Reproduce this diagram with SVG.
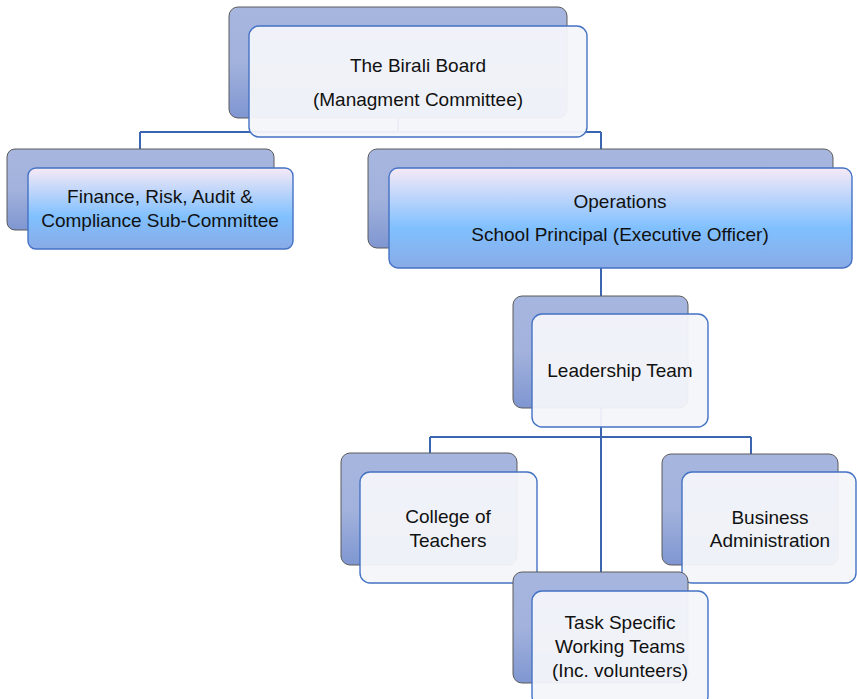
<svg xmlns="http://www.w3.org/2000/svg" width="857" height="699" viewBox="0 0 857 699">
<defs>
<linearGradient id="backG" x1="0" y1="0" x2="0" y2="1">
<stop offset="0" stop-color="#a7b6df"/>
<stop offset="0.5" stop-color="#a2b2dc"/>
<stop offset="1" stop-color="#7f96d1"/>
</linearGradient>
<linearGradient id="blueG" x1="0" y1="0" x2="0" y2="1">
<stop offset="0" stop-color="#f6e9f6"/>
<stop offset="0.6" stop-color="#80c0ff"/>
<stop offset="1" stop-color="#89abe6"/>
</linearGradient>
<style>
.back{fill:url(#backG);stroke:#5a5a5a;stroke-width:1}
.front{fill:#f4f5fa;fill-opacity:0.95;stroke:#4472c4;stroke-width:1.4}
.frontB{fill:url(#blueG);stroke:#4472c4;stroke-width:1.4}
.con{fill:none;stroke:#3b64b1;stroke-width:2}
text{font-family:"Liberation Sans",Arial,sans-serif;font-size:19px;fill:#111;text-anchor:middle}
</style>
</defs>
<rect width="857" height="699" fill="#ffffff"/>
<g id="connectors">
<path class="con" d="M398 118 V132 M140 132 H601 M140 132 V149 M601 132 V149"/>
<path class="con" d="M601 268 V296"/>
<path class="con" d="M601 408 V437 M430 437 H751 M430 437 V453 M751 437 V454 M601 437 V572"/>
</g>
<g id="board">
<rect class="back" x="229" y="7" width="338" height="111" rx="9"/>
<rect class="front" x="249" y="26" width="338" height="111" rx="10"/>
<text x="418" y="72">The Birali Board</text>
<text x="418" y="106">(Managment Committee)</text>
</g>
<g id="finance">
<rect class="back" x="7" y="149" width="267" height="81" rx="8"/>
<rect class="frontB" x="28" y="168" width="265" height="81" rx="8"/>
<text x="160" y="203">Finance, Risk, Audit &amp;</text>
<text x="160" y="227">Compliance Sub-Committee</text>
</g>
<g id="operations">
<rect class="back" x="368" y="149" width="465" height="99" rx="9"/>
<rect class="frontB" x="389" y="168" width="463" height="100" rx="9"/>
<text x="620" y="208">Operations</text>
<text x="620" y="241">School Principal (Executive Officer)</text>
</g>
<g id="leadership">
<rect class="back" x="513" y="296" width="175" height="112" rx="9"/>
<rect class="front" x="532" y="314" width="176" height="113" rx="10"/>
<text x="620" y="377">Leadership Team</text>
</g>
<g id="college">
<rect class="back" x="341" y="453" width="176" height="112" rx="9"/>
<rect class="front" x="360" y="472" width="177" height="111" rx="10"/>
<text x="448" y="523">College of</text>
<text x="448" y="547">Teachers</text>
</g>
<g id="business">
<rect class="back" x="662" y="454" width="176" height="111" rx="9"/>
<rect class="front" x="682" y="472" width="174" height="111" rx="10"/>
<text x="770" y="524">Business</text>
<text x="770" y="547">Administration</text>
</g>
<g id="task">
<rect class="back" x="513" y="572" width="175" height="111" rx="9"/>
<rect class="front" x="532" y="591" width="176" height="115" rx="10"/>
<text x="620" y="629">Task Specific</text>
<text x="620" y="653">Working Teams</text>
<text x="620" y="677">(Inc. volunteers)</text>
</g>
</svg>
